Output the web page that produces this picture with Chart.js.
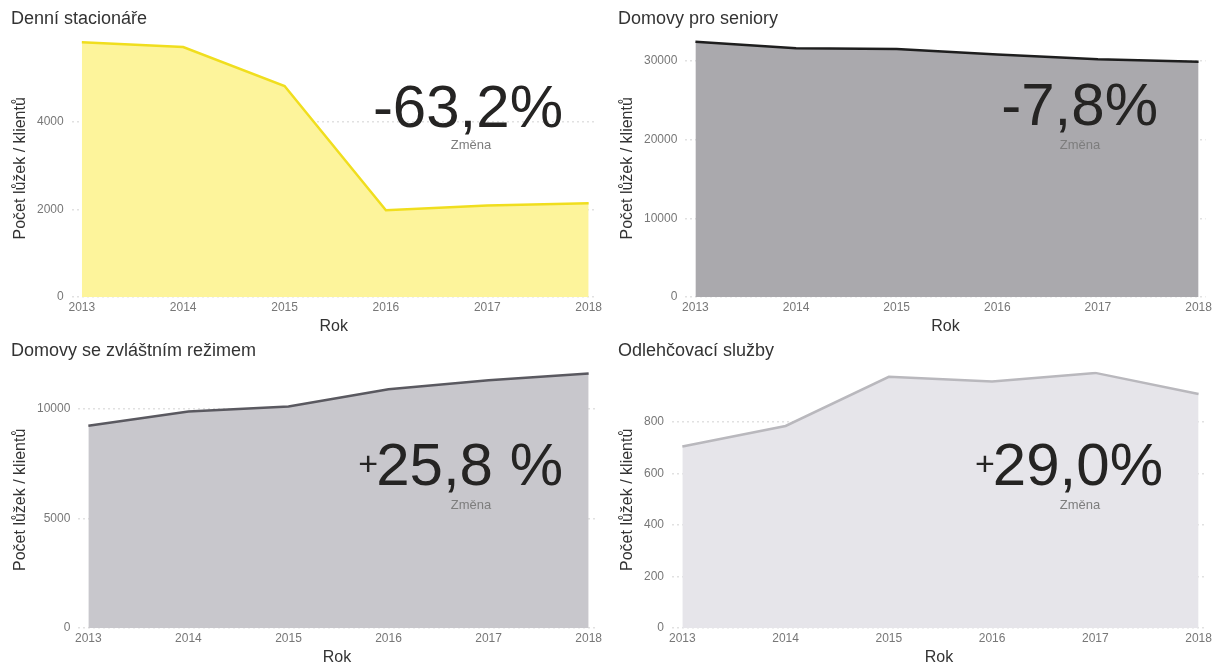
<!DOCTYPE html>
<html lang="cs">
<head>
<meta charset="utf-8">
<title>Kapacity sociálních služeb 2013–2018</title>
<script src="https://cdn.jsdelivr.net/npm/chart.js@4.4.1/dist/chart.umd.min.js"></script>
<style>
  html, body { margin: 0; padding: 0; background: #fff; }
  .panel { position: absolute; }
  .panel canvas { display: block; }
</style>
</head>
<body>
<div class="panel" style="left:0;top:0"><canvas id="c1" width="607" height="335"></canvas></div>
<div class="panel" style="left:607px;top:0"><canvas id="c2" width="610" height="335"></canvas></div>
<div class="panel" style="left:0;top:332px"><canvas id="c3" width="607" height="334"></canvas></div>
<div class="panel" style="left:607px;top:332px"><canvas id="c4" width="610" height="334"></canvas></div>
<script>
const years = [2013, 2014, 2015, 2016, 2017, 2018];

const denniStacionare = [5820, 5710, 4820, 1980, 2090, 2140];
const domovyProSeniory = [32420, 31600, 31500, 30800, 30200, 29890];
const domovyZvlastniRezim = [9230, 9880, 10110, 10890, 11300, 11610];
const odlehcovaciSluzby = [704, 784, 975, 957, 990, 908];

// y tick values per panel
const ticksDenni = [0, 2000, 4000];
const ticksSeniory = [0, 10000, 20000, 30000];
const ticksZvlastni = [0, 5000, 10000];
const ticksOdlehcovaci = [0, 200, 400, 600, 800];

const panelTitles = ['Denní stacionáře', 'Domovy pro seniory', 'Domovy se zvláštním režimem', 'Odlehčovací služby'];
const changeLabels = ['-63,2%', '-7,8%', '+25,8 %', '+29,0%'];

const yAxisTitle = 'Počet lůžek / klientů';
const xAxisTitle = 'Rok';
const changeCaption = 'Změna';

const FONT = '"Liberation Sans", Arial, sans-serif';

// big "change" number with a small caption underneath
const changeBadge = {
  id: 'changeBadge',
  afterDraw(chart, args, opts) {
    const ctx = chart.ctx;
    let text = opts.text;
    let plus = '';
    if (text.startsWith('+')) { plus = '+'; text = text.slice(1); }
    ctx.save();
    ctx.fillStyle = '#252423';
    ctx.textBaseline = 'alphabetic';
    ctx.font = '60px ' + FONT;
    const w = ctx.measureText(text).width;
    ctx.textAlign = 'left';
    ctx.fillText(text, opts.right - w, opts.base);
    if (plus) {
      ctx.font = '34px ' + FONT;
      const pw = ctx.measureText(plus).width;
      ctx.fillText(plus, opts.right - w - pw + 2, opts.base - 10);
    }
    ctx.font = '13px ' + FONT;
    ctx.fillStyle = '#7d7d7d';
    ctx.textAlign = 'center';
    ctx.textBaseline = 'middle';
    ctx.fillText(changeCaption, opts.mid, opts.sub);
    ctx.restore();
  }
};

function createAreaChart(canvasId, title, values, yMax, yTicks, colors, badge, padRight) {
  const ctx = document.getElementById(canvasId).getContext('2d');
  return new Chart(ctx, {
    type: 'line',
    data: {
      labels: years,
      datasets: [{
        data: values,
        fill: 'origin',
        backgroundColor: colors.fill,
        borderColor: colors.line,
        borderWidth: 2.5,
        tension: 0,
        pointRadius: 0
      }]
    },
    options: {
      responsive: false,
      animation: false,
      devicePixelRatio: 1,
      layout: { padding: { left: 11, right: padRight, top: 0, bottom: 0 } },
      plugins: {
        legend: { display: false },
        tooltip: { enabled: false },
        title: {
          display: true,
          text: title,
          align: 'start',
          color: '#333',
          font: { family: FONT, size: 18, weight: 'normal', lineHeight: 1.2 },
          padding: { top: 8, bottom: 10 }
        },
        changeBadge: badge
      },
      scales: {
        x: {
          type: 'linear',
          min: 2012.9,
          max: 2018.07,
          grid: { display: false, drawTicks: false },
          border: { display: false },
          ticks: {
            stepSize: 1,
            includeBounds: false,
            maxRotation: 0,
            padding: 5,
            color: '#777',
            font: { family: FONT, size: 12, lineHeight: 1 },
            callback: v => String(v)
          },
          title: {
            display: true,
            text: xAxisTitle,
            color: '#333',
            font: { family: FONT, size: 16, lineHeight: 1 },
            padding: { top: 0, bottom: 0 }
          }
        },
        y: {
          min: 0,
          max: yMax,
          z: 1,
          afterBuildTicks: scale => {
            scale.ticks = yTicks.map(v => ({ value: v }));
          },
          grid: {
            drawTicks: false,
            color: 'rgba(215,215,215,0.75)',
            lineWidth: 1.5
          },
          border: { display: false, dash: [2, 3] },
          ticks: {
            padding: 8,
            color: '#777',
            font: { family: FONT, size: 12 },
            callback: v => String(v)
          },
          title: {
            display: true,
            text: yAxisTitle,
            color: '#333',
            font: { family: FONT, size: 16, lineHeight: 1 },
            padding: { top: 2, bottom: 0 }
          }
        }
      }
    },
    plugins: [changeBadge]
  });
}

createAreaChart('c1', panelTitles[0], denniStacionare, 5880, ticksDenni,
  { fill: 'rgb(253,244,155)', line: 'rgb(240,222,30)' },
  { text: changeLabels[0], right: 563, mid: 471, base: 127, sub: 145 }, 0);

createAreaChart('c2', panelTitles[1], domovyProSeniory, 32700, ticksSeniory,
  { fill: 'rgb(170,169,173)', line: 'rgb(30,30,30)' },
  { text: changeLabels[1], right: 551, mid: 473, base: 125, sub: 145 }, 6);

createAreaChart('c3', panelTitles[2], domovyZvlastniRezim, 11700, ticksZvlastni,
  { fill: 'rgb(200,199,204)', line: 'rgb(90,89,96)' },
  { text: changeLabels[2], right: 563, mid: 471, base: 153, sub: 173 }, 0);

createAreaChart('c4', panelTitles[3], odlehcovaciSluzby, 995, ticksOdlehcovaci,
  { fill: 'rgb(230,229,234)', line: 'rgb(185,184,189)' },
  { text: changeLabels[3], right: 556, mid: 473, base: 153, sub: 173 }, 6);
</script>
</body>
</html>
